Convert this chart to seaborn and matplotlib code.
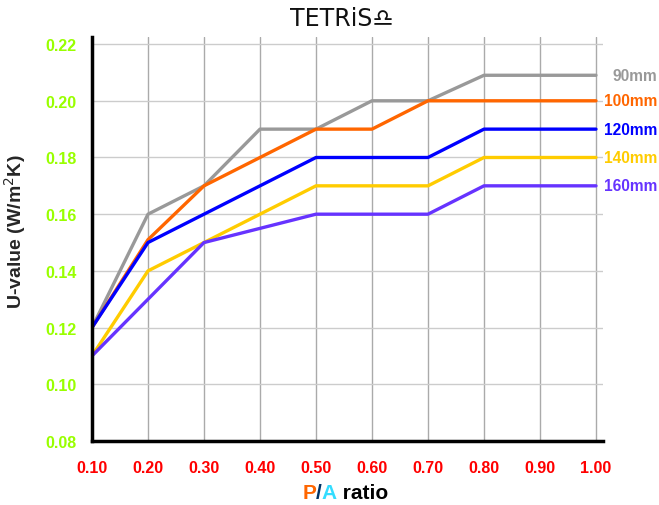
import numpy as np
import pandas as pd
import seaborn as sns
import matplotlib.pyplot as plt
from matplotlib import transforms
from matplotlib.offsetbox import TextArea, HPacker, AnchoredOffsetbox

pa_ratio = [0.10, 0.20, 0.30, 0.40, 0.50, 0.60, 0.70, 0.80, 0.90, 1.00]
u_90 = [0.120, 0.160, 0.170, 0.190, 0.190, 0.200, 0.200, 0.209, 0.209, 0.209]
u_100 = [0.120, 0.151, 0.170, 0.180, 0.190, 0.190, 0.200, 0.200, 0.200, 0.200]
u_120 = [0.120, 0.150, 0.160, 0.170, 0.180, 0.180, 0.180, 0.190, 0.190, 0.190]
u_140 = [0.110, 0.140, 0.150, 0.160, 0.170, 0.170, 0.170, 0.180, 0.180, 0.180]
u_160 = [0.110, 0.130, 0.150, 0.155, 0.160, 0.160, 0.160, 0.170, 0.170, 0.170]

thickness = ["90mm", "100mm", "120mm", "140mm", "160mm"]
colors = ["#999999", "#FF6600", "#0000FF", "#FFCC00", "#6633FF"]
y_ticks = [0.08, 0.10, 0.12, 0.14, 0.16, 0.18, 0.20, 0.22]

df = pd.DataFrame({
    "pa": pa_ratio * 5,
    "u": u_90 + u_100 + u_120 + u_140 + u_160,
    "thickness": np.repeat(thickness, len(pa_ratio)),
})

sns.set_style("white")
plt.rcParams["font.family"] = ["Liberation Sans", "DejaVu Sans"]

fig = plt.figure(figsize=(6.59, 5.06), dpi=100)
ax = fig.add_axes([0.1396, 0.1265, 0.7754, 0.7984])

sns.lineplot(data=df, x="pa", y="u", hue="thickness", palette=colors,
             hue_order=thickness, linewidth=2.4, legend=False, ax=ax, zorder=3)

ax.set_xlim(0.10, 1.0125)
ax.set_ylim(0.08, 0.2225)
ax.set_xticks(pa_ratio)
ax.set_yticks(y_ticks)
ax.set_xticklabels([f"{v:.2f}" for v in pa_ratio], color="#FF0000",
                   fontweight="bold", fontsize=11.5)
ax.set_yticklabels([f"{v:.2f}" for v in y_ticks], color="#99FF00",
                   fontweight="bold", fontsize=11.5)
ax.tick_params(axis="both", length=6, width=1, color="#999999")
ax.tick_params(axis="x", pad=8)
ax.tick_params(axis="y", pad=5)

ax.grid(axis="x", color="#aaaaaa", linewidth=1)
ax.grid(axis="y", color="#cccccc", linewidth=1)
ax.set_axisbelow(True)
for side in ["top", "right"]:
    ax.spines[side].set_visible(False)
for side in ["left", "bottom"]:
    ax.spines[side].set_color("black")
    ax.spines[side].set_linewidth(2.5)
    ax.spines[side].set_zorder(4)

ax.set_xlabel("")
ax.set_ylabel("U-value (W/m$^2$K)", fontsize=14, fontweight="bold")
ax.yaxis.set_label_coords(-0.125, 0.52)

# labels at the right end of each line
trans = transforms.blended_transform_factory(fig.transFigure, ax.transData)
for name, col, vals in zip(thickness, colors, [u_90, u_100, u_120, u_140, u_160]):
    ax.text(0.998, vals[-1], name, transform=trans, ha="right", va="center",
            color=col, fontweight="bold", fontsize=11.2, clip_on=False)

# multi-coloured x label
parts = [("P", "#FF6600"), ("/", "#003366"), ("A", "#33DDFF"), (" ratio", "black")]
boxes = [TextArea(t, textprops=dict(color=c, fontsize=15, fontweight="bold",
                                    family=["Liberation Sans", "DejaVu Sans"]))
         for t, c in parts]
packer = HPacker(children=boxes, align="baseline", pad=0, sep=0)
anchored = AnchoredOffsetbox(loc="center", child=packer, frameon=False,
                             bbox_to_anchor=(0.524, 0.024),
                             bbox_transform=fig.transFigure, borderpad=0)
fig.add_artist(anchored)

fig.text(0.518, 0.962, "TETRiS\u264e", ha="center", va="center", fontsize=17,
         family=["DejaVu Sans"], color="#111111")

fig.savefig("out.png", dpi=100, facecolor="white")
